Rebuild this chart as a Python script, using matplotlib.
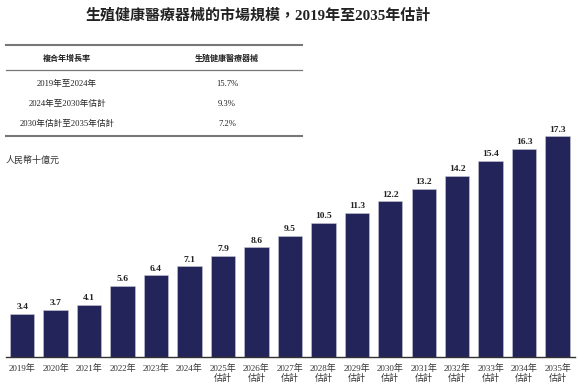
import matplotlib
matplotlib.use("Agg")
import matplotlib.pyplot as plt
from matplotlib.lines import Line2D

plt.rcParams['font.family'] = ['Liberation Serif', 'Noto Sans CJK TC', 'DejaVu Sans']

years = ["2019年", "2020年", "2021年", "2022年", "2023年", "2024年",
         "2025年\n估計", "2026年\n估計", "2027年\n估計", "2028年\n估計", "2029年\n估計",
         "2030年\n估計", "2031年\n估計", "2032年\n估計", "2033年\n估計", "2034年\n估計", "2035年\n估計"]
values = [3.4, 3.7, 4.1, 5.6, 6.4, 7.1, 7.9, 8.6, 9.5, 10.5, 11.3, 12.2, 13.2, 14.2, 15.4, 16.3, 17.3]

title = "生殖健康醫療器械的市場規模，2019年至2035年估計"
table_header = ["複合年增長率", "生殖健康醫療器械"]
table_periods = ["2019年至2024年", "2024年至2030年估計", "2030年估計至2035年估計"]
table_cagr = ["15.7%", "9.3%", "7.2%"]
unit_label = "人民幣十億元"

W, H = 580, 391
fig = plt.figure(figsize=(W / 100, H / 100), dpi=100)
fig.patch.set_facecolor("white")

def fx(px):
    return px / W

def fy(py):
    return 1 - py / H

# bar axes
ax_left, ax_right = 6, 575
ax_top, ax_bottom = 120, 357
ax = fig.add_axes([fx(ax_left), fy(ax_bottom), fx(ax_right - ax_left), (ax_bottom - ax_top) / H])
bar_color = "#232459"
x = list(range(len(values)))
ax.bar(x, values, width=0.73, color=bar_color, edgecolor="#c8c8d8", linewidth=0.4)
ax.set_xlim(-0.484, 16.52)
ax.set_ylim(0, (ax_bottom - ax_top) / 12.75)
for xi, v in zip(x, values):
    ax.text(xi, v + 0.22, f"{v:.1f}", ha="center", va="bottom", fontsize=6.8,
            fontweight="bold", color="#222222")
for s in ["top", "right", "left"]:
    ax.spines[s].set_visible(False)
ax.spines["bottom"].set_color("#333333")
ax.spines["bottom"].set_linewidth(1.0)
ax.set_yticks([])
ax.set_xticks(x)
ax.set_xticklabels(years, fontsize=6.5, color="#333333", linespacing=1.05)
ax.tick_params(axis="x", length=0, pad=5)

# title
fig.text(fx(258), fy(15), title, ha="center", va="center", fontsize=10.8,
         fontweight="bold", color="#222222")

# unit label
fig.text(fx(6), fy(160), unit_label, ha="left", va="center", fontsize=6.5, color="#333333")

# table
tl, tr = 6, 302
fig.add_artist(Line2D([fx(tl), fx(tr)], [fy(45), fy(45)], color="#777777", lw=1.5))
fig.add_artist(Line2D([fx(tl), fx(tr)], [fy(70), fy(70)], color="#777777", lw=0.9))
fig.add_artist(Line2D([fx(tl), fx(tr)], [fy(136), fy(136)], color="#777777", lw=1.5))
c1, c2 = 67, 227
fig.text(fx(c1), fy(59), table_header[0], ha="center", va="center", fontsize=5.8,
         fontweight="bold", color="#222222")
fig.text(fx(c2), fy(59), table_header[1], ha="center", va="center", fontsize=5.8,
         fontweight="bold", color="#222222")
for i, (p, c) in enumerate(zip(table_periods, table_cagr)):
    yy = 84 + i * 20
    fig.text(fx(c1), fy(yy), p, ha="center", va="center", fontsize=6.2, color="#222222")
    fig.text(fx(c2), fy(yy), c, ha="center", va="center", fontsize=6.2, color="#222222")

fig.savefig("out.png", dpi=100, facecolor="white")
